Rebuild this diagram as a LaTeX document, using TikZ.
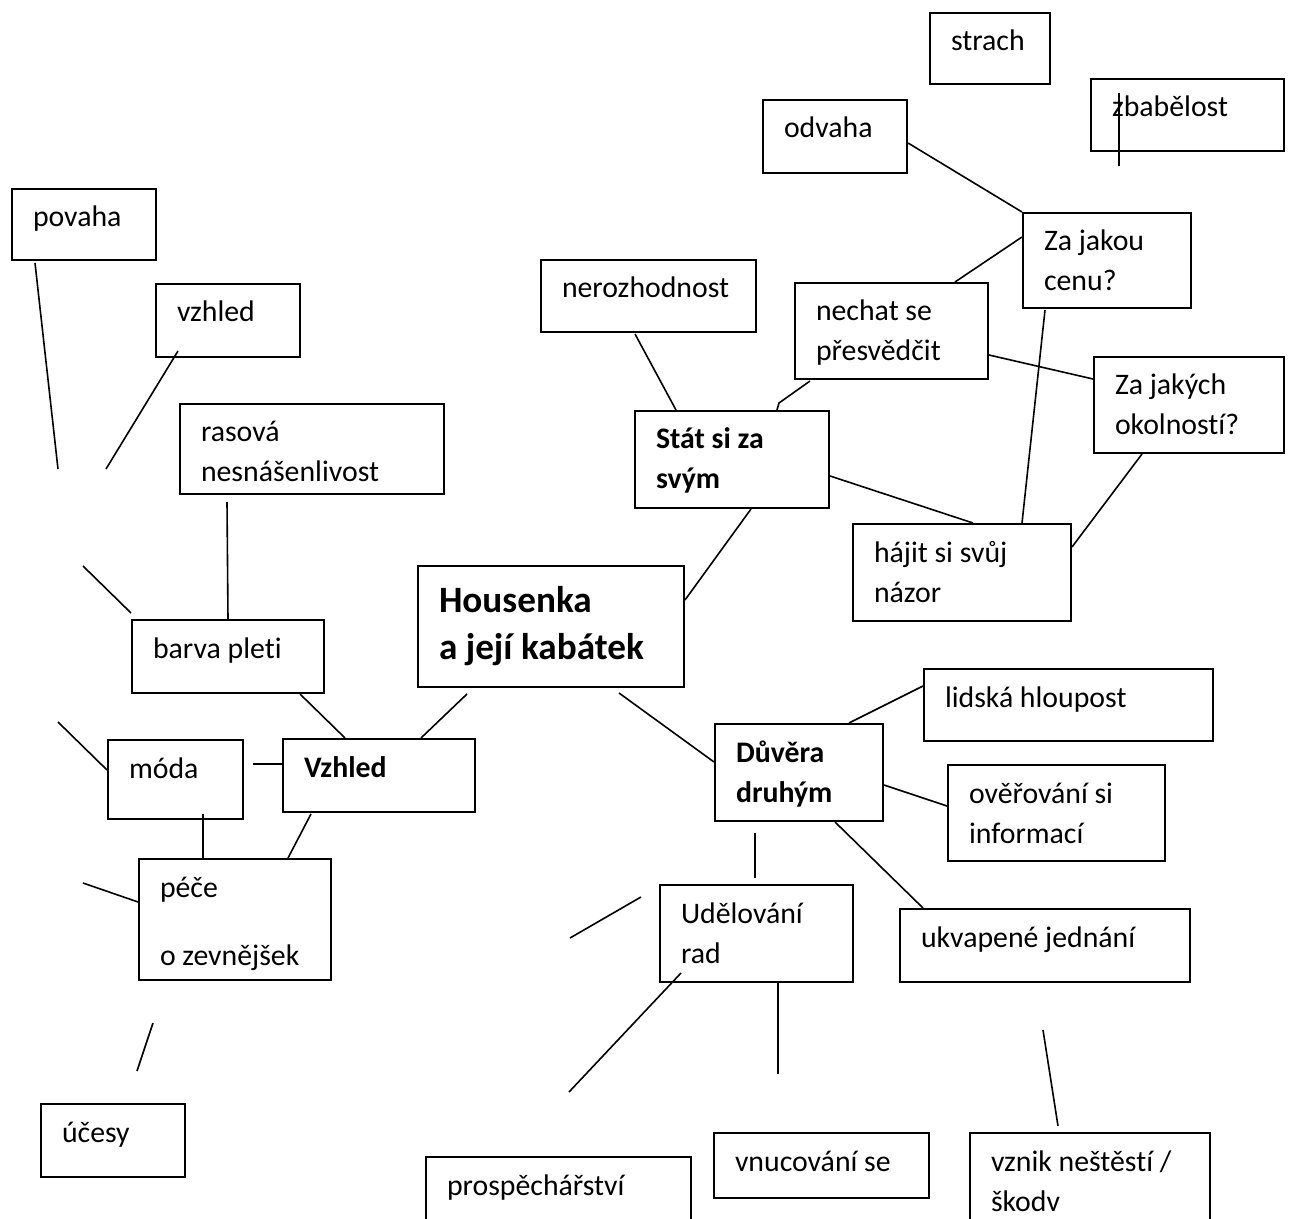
\documentclass[tikz,border=0pt]{standalone}
\usepackage{fontspec}
\setmainfont[Ligatures={NoCommon,NoContextual}]{Carlito}
\usetikzlibrary{calc}
\newdimen\pxu
\pxu=0.5pt
\newcommand{\obsah}[3]{\parbox[t][\dimexpr#2\pxu-10pt\relax][t]{\dimexpr#1\pxu-21pt\relax}{\strut#3}}
\tikzset{
  pole/.style={draw, line width=1pt, anchor=north west, inner xsep=10.5pt, inner ysep=5pt,
    font=\fontsize{14.9}{20}\selectfont},
  spoj/.style={line width=0.8pt}
}

\begin{document}
\begin{tikzpicture}[x=0.5pt, y=-0.5pt]
      \useasboundingbox (0,0) rectangle (1290,1219);
      \clip (0,0) rectangle (1290,1219);
      \fill[white] (0,0) rectangle (1290,1219);
      % stred
      \node[pole, inner ysep=7pt, font=\fontsize{18.6}{23.5}\selectfont\bfseries] (housenka) at (417,565)
        {\parbox[t][\dimexpr121\pxu-14pt\relax][t]{\dimexpr266\pxu-21pt\relax}{\strut Housenka\\a její kabátek}};
      % vlevo
      \node[pole] (povaha) at (11,188) {\obsah{144}{71}{povaha}};
      \node[pole] (vzhled) at (155,283) {\obsah{144}{73}{vzhled}};
      \node[pole] (rasova) at (179,403) {\obsah{264}{90}{rasová\\nesnášenlivost}};
      \node[pole] (barva) at (131,619) {\obsah{192}{73}{barva pleti}};
      \node[pole] (moda) at (107,739) {\obsah{135}{79}{móda}};
      \node[pole] (vzhledm) at (282,738) {\obsah{192}{73}{\bfseries Vzhled}};
      \node[pole] (pece) at (138,858) {\obsah{192}{121}{péče\\[14pt]o zevnějšek}};
      \node[pole] (ucesy) at (40,1103) {\obsah{144}{73}{účesy}};
      % vpravo nahore
      \node[pole] (strach) at (929,12) {\obsah{120}{71}{strach}};
      \node[pole] (zbabelost) at (1090,78) {\obsah{193}{72}{zbabělost}};
      \node[pole] (odvaha) at (762,99) {\obsah{144}{73}{odvaha}};
      \node[pole] (zajakou) at (1022,212) {\obsah{168}{95}{Za jakou\\cenu?}};
      \node[pole] (nerozhodnost) at (540,259) {\obsah{215}{72}{nerozhodnost}};
      \node[pole] (nechat) at (794,282) {\obsah{193}{96}{nechat se\\přesvědčit}};
      \node[pole] (zajakych) at (1093,356) {\obsah{190}{96}{Za jakých\\okolností?}};
      \node[pole] (stat) at (634,410) {\obsah{194}{97}{\bfseries Stát si za\\svým}};
      \node[pole] (hajit) at (852,523) {\obsah{218}{97}{hájit si svůj\\názor}};
      % vpravo dole
      \node[pole] (duvera) at (714,723) {\obsah{168}{97}{\bfseries Důvěra\\druhým}};
      \node[pole] (lidska) at (923,668) {\obsah{289}{72}{lidská hloupost}};
      \node[pole] (overovani) at (947,764) {\obsah{217}{96}{ověřování si\\informací}};
      \node[pole] (ukvapene) at (899,908) {\obsah{290}{73}{ukvapené jednání}};
      \node[pole] (udelovani) at (659,884) {\obsah{193}{97}{Udělování\\rad}};
      \node[pole] (prospech) at (425,1156) {\obsah{265}{100}{prospěchářství}};
      \node[pole] (vnucovani) at (713,1132) {\obsah{215}{65}{vnucování se}};
      \node[pole] (vznik) at (969,1132) {\obsah{240}{110}{vznik neštěstí /\\škodv}};

      % volne konce car
      \coordinate (k1) at (58,469);
      \coordinate (k2) at (106,469);
      \coordinate (k3) at (83,566);
      \coordinate (k4) at (58,722);
      \coordinate (k5) at (83,883);
      \coordinate (k6) at (153,1023);
      \coordinate (k7) at (137,1071);
      \coordinate (k8) at (570,938);
      \coordinate (k9) at (569,1092);
      \coordinate (k10) at (778,1074);
      \coordinate (k11) at (1043,1030);
      \coordinate (k12) at (779,403);

      \draw[spoj] ($(povaha.south west)+(24,2)$) -- (k1);
      \draw[spoj] ($(vzhled.south west)+(23,-7)$) -- (k2);
      \draw[spoj] ($(rasova.south west)+(48,7)$) -- (barva.north);
      \draw[spoj] (k3) -- ($(barva.north west)+(0,-6)$);
      \draw[spoj] ($(barva.south west)+(169,0)$) -- ($(vzhledm.north west)+(63,0)$);
      \draw[spoj] ($(housenka.south west)+(50,6)$) -- ($(vzhledm.north west)+(139,0)$);
      \draw[spoj] (k4) -- ($(moda.north west)+(0,31)$);
      \draw[spoj] ($(moda.north east)+(9,25)$) -- ($(vzhledm.north west)+(0,26)$);
      \draw[spoj] ($(vzhledm.south west)+(29,1)$) -- ($(pece.north west)+(150,0)$);
      \draw[spoj] ($(moda.south west)+(96,-6)$) -- ($(pece.north west)+(65,0)$);
      \draw[spoj] (k5) -- ($(pece.north west)+(0,44)$);
      \draw[spoj] (k6) -- (k7);

      \draw[spoj] ($(odvaha.north east)+(0,44)$) -- (zajakou.north west);
      \draw[spoj] ($(zajakou.north west)+(0,25)$) -- ($(nechat.north west)+(161,0)$);
      \draw[spoj] ($(nerozhodnost.south west)+(95,1)$) -- ($(stat.north west)+(42,0)$);
      \draw[spoj] ($(nechat.south west)+(16,1)$) -- (k12) -- ($(stat.north west)+(143,0)$);
      \draw[spoj] ($(nechat.north east)+(0,73)$) -- ($(zajakych.north west)+(0,23)$);
      \draw[spoj] ($(zajakou.south west)+(23,1)$) -- ($(hajit.north west)+(170,0)$);
      \draw[spoj] ($(stat.north east)+(0,66)$) -- ($(hajit.north west)+(121,0)$);
      \draw[spoj] ($(zajakych.south west)+(49,0)$) -- ($(hajit.north east)+(0,24)$);
      \draw[spoj] ($(stat.south west)+(117,0)$) -- ($(housenka.north east)+(0,35)$);
      \draw[spoj] ($(zbabelost.north west)+(29,15)$) -- ($(zbabelost.south west)+(29,14)$);

      \draw[spoj] ($(housenka.south west)+(202,5)$) -- ($(duvera.north west)+(0,39)$);
      \draw[spoj] ($(duvera.north west)+(135,0)$) -- ($(lidska.north west)+(0,18)$);
      \draw[spoj] ($(duvera.north east)+(0,62)$) -- ($(overovani.north west)+(0,42)$);
      \draw[spoj] ($(duvera.south west)+(121,0)$) -- ($(ukvapene.north west)+(24,0)$);
      \draw[spoj] ($(duvera.south west)+(41,11)$) -- ($(udelovani.north west)+(96,-6)$);
      \draw[spoj] (k8) -- ($(udelovani.north west)+(-18,13)$);
      \draw[spoj] ($(udelovani.south west)+(22,-10)$) -- (k9);
      \draw[spoj] ($(udelovani.south west)+(119,-2)$) -- (k10);
      \draw[spoj] (k11) -- ($(vznik.north west)+(89,-6)$);
\end{tikzpicture}
\end{document}
